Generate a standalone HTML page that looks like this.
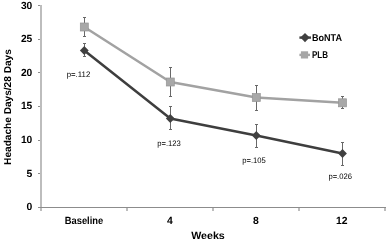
<!DOCTYPE html>
<html><head><meta charset="utf-8">
<style>
html,body{margin:0;padding:0;background:#fff;}
svg{display:block;}
text{font-family:"Liberation Sans",sans-serif;text-rendering:geometricPrecision;}
.b{font-weight:bold;fill:#000;font-size:10.4px;}
.p{font-size:8px;fill:#000;}
</style></head><body>
<svg style="will-change:transform;opacity:0.999" width="387" height="242" viewBox="0 0 387 242">
<rect width="387" height="242" fill="#fff"/>
<!-- axes -->
<g fill="none" shape-rendering="crispEdges">
<path stroke="#bdbdbd" stroke-width="2" d="M41 5V211M127 208V211M213 208V211M299 208V211M385 208V211"/>
<path stroke="#8c8c8c" stroke-width="1" d="M40 207.500H386M38 5.500H40M38 39.500H40M38 72.500H40M38 106.500H40M38 140.500H40M38 173.500H40M38 207.500H40"/>
</g>
<!-- y labels -->
<g class="b" text-anchor="end">
<text x="32.300" y="8.5" textLength="11.400" lengthAdjust="spacingAndGlyphs">30</text>
<text x="32.300" y="42.2" textLength="11.400" lengthAdjust="spacingAndGlyphs">25</text>
<text x="32.300" y="75.7" textLength="11.400" lengthAdjust="spacingAndGlyphs">20</text>
<text x="32.300" y="109.2" textLength="11.400" lengthAdjust="spacingAndGlyphs">15</text>
<text x="32.300" y="143.0" textLength="11.400" lengthAdjust="spacingAndGlyphs">10</text>
<text x="32.300" y="176.700">5</text>
<text x="32.300" y="210.200">0</text>
</g>
<g class="b" text-anchor="middle">
<text x="84" y="223.500" textLength="38.500" lengthAdjust="spacingAndGlyphs">Baseline</text>
<text x="170" y="223.500">4</text>
<text x="256" y="223.500">8</text>
<text x="341.800" y="223.500">12</text>
<text x="208" y="239.300" textLength="33.600" lengthAdjust="spacingAndGlyphs">Weeks</text>
</g>
<text class="b" style="font-size:10px" transform="translate(11.4,164.9) rotate(-90)" textLength="115.700" lengthAdjust="spacingAndGlyphs">Headache Days/28 Days</text>
<!-- error bars -->
<g stroke="#686868" stroke-width="1" fill="none" shape-rendering="crispEdges">
<path d="M84.500 17V37M83 17.500H86M83 36.500H86"/>
<path d="M170.500 67V97M169 67.500H172M169 96.500H172"/>
<path d="M256.500 85V111M255 85.500H258M255 110.500H258"/>
<path d="M342.500 96V109M341 96.500H344M341 108.500H344"/>
<path d="M84.500 43V57M83 43.500H86M83 56.500H86"/>
<path d="M170.500 106V130M169 106.500H172M169 129.500H172"/>
<path d="M256.500 124V148M255 124.500H258M255 147.500H258"/>
<path d="M342.500 142V166M341 142.500H344M341 165.500H344"/>
</g>
<!-- PLB -->
<polyline points="84.300,27 170.300,82 256.300,97.500 342.500,102.800" fill="none" stroke="#a2a2a2" stroke-width="2.5" stroke-linejoin="round"/>
<g fill="#a8a8a8" stroke="#959595" stroke-width="0.7">
<rect x="80.300" y="23" width="8" height="8"/><rect x="166.300" y="78" width="8" height="8"/><rect x="252.300" y="93.500" width="8" height="8"/><rect x="338.500" y="98.800" width="8" height="8"/>
</g>
<!-- BoNTA -->
<polyline points="84.300,50.500 170.300,118.500 256.300,135.500 342.500,153.500" fill="none" stroke="#3e3e3e" stroke-width="2.5" stroke-linejoin="round"/>
<g fill="#404040">
<path d="M84.300 46.100l4.4 4.4l-4.4 4.4l-4.4-4.4z"/><path d="M170.300 114.100l4.4 4.4l-4.4 4.4l-4.4-4.4z"/><path d="M256.300 131.100l4.4 4.4l-4.4 4.4l-4.4-4.4z"/><path d="M342.500 149.100l4.4 4.4l-4.4 4.4l-4.4-4.4z"/>
</g>
<!-- p labels -->
<g class="p" text-anchor="middle">
<text x="78.500" y="76.500" textLength="23.600" lengthAdjust="spacingAndGlyphs">p=.112</text>
<text x="169" y="145.600" textLength="23.600" lengthAdjust="spacingAndGlyphs">p=.123</text>
<text x="254" y="163" textLength="23.600" lengthAdjust="spacingAndGlyphs">p=.105</text>
<text x="340.200" y="179.200" textLength="23.600" lengthAdjust="spacingAndGlyphs">p=.026</text>
</g>
<!-- legend -->
<line x1="299.400" y1="37.600" x2="311" y2="37.600" stroke="#404040" stroke-width="2.4"/>
<path d="M305 33l4.600 4.600l-4.600 4.600l-4.600-4.600z" fill="#404040"/>
<text class="b" style="font-size:9.8px" x="312" y="40.500" textLength="30" lengthAdjust="spacingAndGlyphs">BoNTA</text>
<line x1="299.400" y1="54.900" x2="310" y2="54.900" stroke="#a6a6a6" stroke-width="2.4"/>
<rect x="300.900" y="51.300" width="7.200" height="7.200" fill="#a6a6a6"/>
<text class="b" style="font-size:9.8px" x="312" y="58" textLength="16" lengthAdjust="spacingAndGlyphs">PLB</text>
</svg>
</body></html>
